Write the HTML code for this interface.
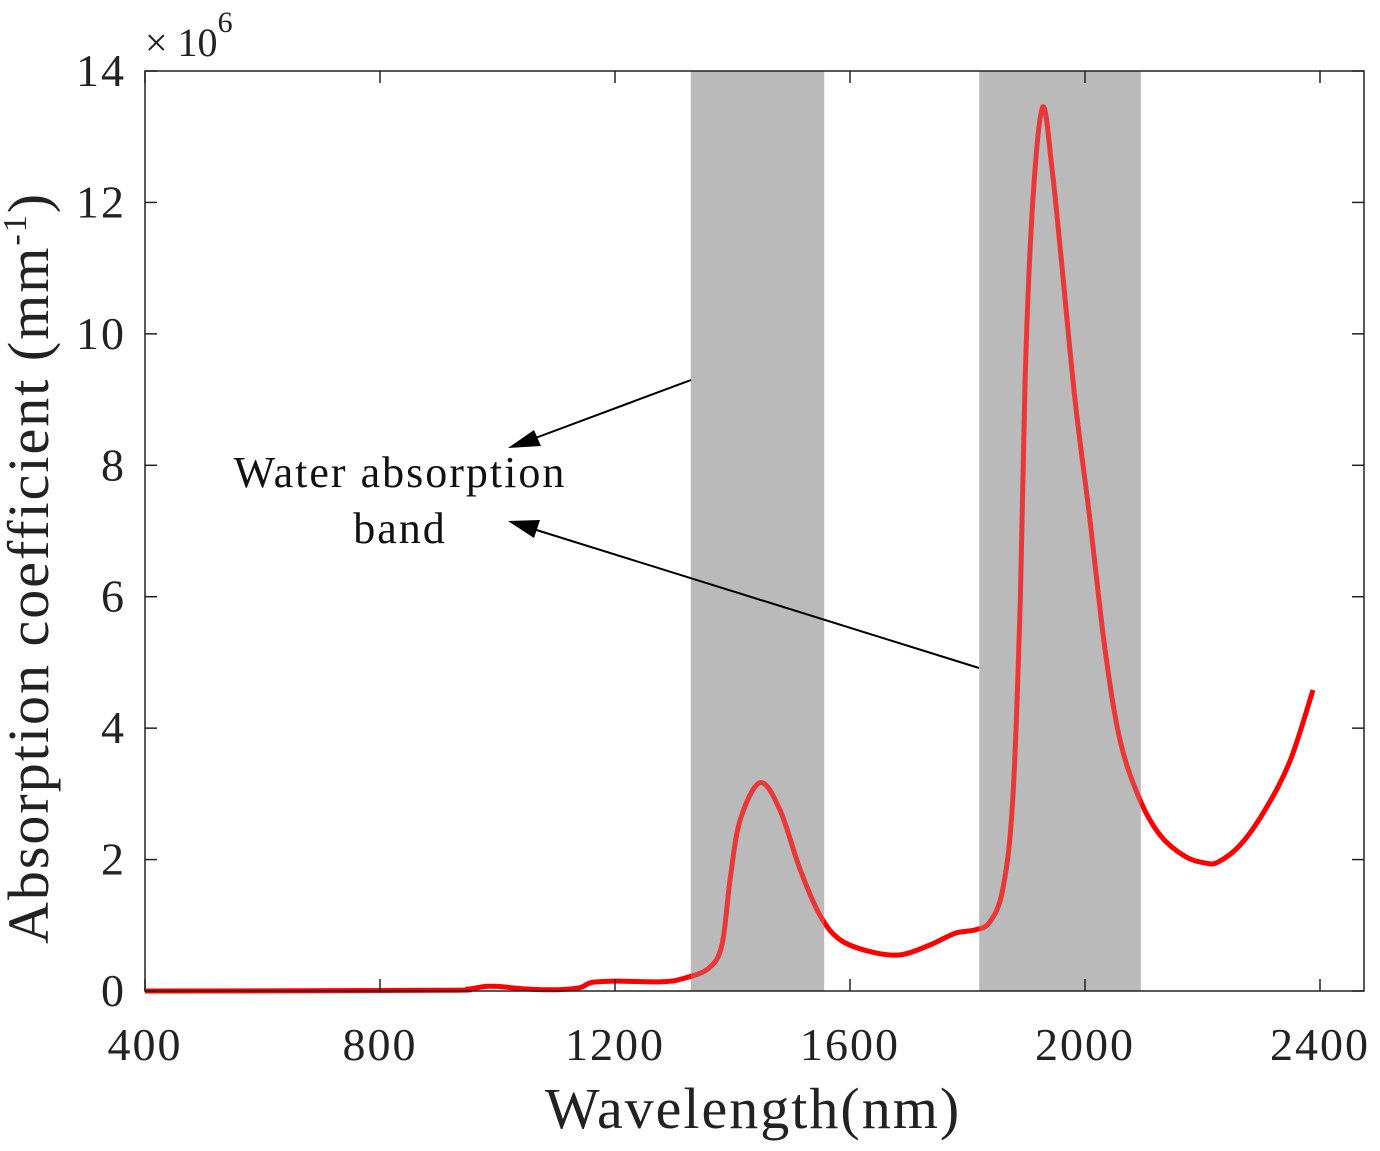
<!DOCTYPE html>
<html><head><meta charset="utf-8"><style>
html,body{margin:0;padding:0;background:#fff;}
svg{display:block;font-family:"Liberation Serif",serif;}
</style></head><body>
<svg id="chart" width="1380" height="1151" viewBox="0 0 1380 1151">
<g id="bands"></g>
<g id="curve"></g>
<g id="overlay"></g>
<rect x="145" y="71" width="1219" height="920" fill="none" stroke="#222" stroke-width="1.5"/>
<g id="ticks"></g>
<text x="145" y="56" font-size="40" fill="#222">× 10<tspan font-size="30" dy="-24">6</tspan></text>
<text x="753" y="1128" font-size="58" letter-spacing="2" text-anchor="middle" fill="#222">Wavelength(nm)</text>
<text transform="translate(48,568) rotate(-90)" font-size="58" letter-spacing="2" text-anchor="middle" fill="#222">Absorption coefficient (mm<tspan font-size="34" dy="-22">-1</tspan><tspan dy="22">)</tspan></text>
<text x="400" y="487" font-size="44" letter-spacing="2" text-anchor="middle" fill="#111">Water absorption</text>
<text x="400" y="543" font-size="44" letter-spacing="2" text-anchor="middle" fill="#111">band</text>
<g>
<line x1="691" y1="380" x2="530" y2="440" stroke="#000" stroke-width="2"/>
<polygon points="508,448 534,430 541,446" fill="#000"/>
</g>
<g>
<line x1="979" y1="668" x2="530" y2="528" stroke="#000" stroke-width="2"/>
<polygon points="508,521 540,520 534,538" fill="#000"/>
</g>
</svg>
<script>
const wavelengths=[400,900,950,980,1000,1050,1100,1140,1160,1200,1280,1320,1360,1382,1396,1413,1447,1481,1515,1549,1583,1634,1685,1736,1779,1813,1838,1860,1877,1890,1898,1911,1928,1944,1960,1983,2008,2034,2060,2094,2128,2170,2204,2226,2264,2306,2349,2388];
const absorption=[0,0.01,0.03,0.07,0.07,0.03,0.02,0.05,0.13,0.15,0.14,0.2,0.35,0.7,1.7,2.6,3.17,2.75,1.85,1.15,0.78,0.6,0.55,0.7,0.88,0.93,1.05,1.55,2.9,6,9.3,12,13.45,12.5,11.1,9,7.2,5.2,3.8,2.9,2.37,2.05,1.95,1.96,2.22,2.75,3.5,4.58];
const bandRanges=[[1329,1556],[1820,2095]];
const xTicks=[400,800,1200,1600,2000,2400];
const yTicks=[0,2,4,6,8,10,12,14];
const NS="http://www.w3.org/2000/svg";
const X=v=>145+(v-400)*0.5875;
const Y=v=>991-v*65.714;
function mk(t,a,p){const e=document.createElementNS(NS,t);for(const k in a)e.setAttribute(k,a[k]);document.getElementById(p).appendChild(e);return e;}
bandRanges.forEach((b,i)=>{
 const r=mk('rect',{x:X(b[0]),y:71,width:X(b[1])-X(b[0]),height:920,fill:'#bbbbbb'},'bands');
 
 
 const o=mk('rect',{x:X(b[0]),y:71,width:X(b[1])-X(b[0]),height:920,fill:'#bbbbbb','fill-opacity':0.3},'overlay');
 
 
});
const pts=wavelengths.map((w,i)=>[X(w),Y(absorption[i])]);
let d='M'+pts[0][0]+','+pts[0][1];
for(let i=0;i<pts.length-1;i++){
 const p0=pts[Math.max(i-1,0)],p1=pts[i],p2=pts[i+1],p3=pts[Math.min(i+2,pts.length-1)];
 const c1=[p1[0]+(p2[0]-p0[0])/6,p1[1]+(p2[1]-p0[1])/6];
 const c2=[p2[0]-(p3[0]-p1[0])/6,p2[1]-(p3[1]-p1[1])/6];
 d+='C'+c1[0].toFixed(1)+','+c1[1].toFixed(1)+' '+c2[0].toFixed(1)+','+c2[1].toFixed(1)+' '+p2[0].toFixed(1)+','+p2[1].toFixed(1);
}
const p=mk('path',{d:d,fill:'none',stroke:'#ff0000','stroke-width':5,'stroke-linejoin':'round'},'curve');


xTicks.forEach(v=>{
 mk('line',{x1:X(v),x2:X(v),y1:991,y2:979,stroke:'#222','stroke-width':1.5},'ticks');
 mk('line',{x1:X(v),x2:X(v),y1:71,y2:83,stroke:'#222','stroke-width':1.5},'ticks');
 const t=mk('text',{x:X(v),y:1060,'font-size':46,'letter-spacing':2,'text-anchor':'middle',fill:'#222'},'ticks');
 
 
 t.textContent=v;
});
yTicks.forEach(v=>{
 mk('line',{x1:145,x2:157,y1:Y(v),y2:Y(v),stroke:'#222','stroke-width':1.5},'ticks');
 mk('line',{x1:1364,x2:1352,y1:Y(v),y2:Y(v),stroke:'#222','stroke-width':1.5},'ticks');
 const t=mk('text',{x:126,y:Y(v)+15,'font-size':46,'letter-spacing':2,'text-anchor':'end',fill:'#222'},'ticks');
 
 
 t.textContent=v;
});
</script>
</body></html>
